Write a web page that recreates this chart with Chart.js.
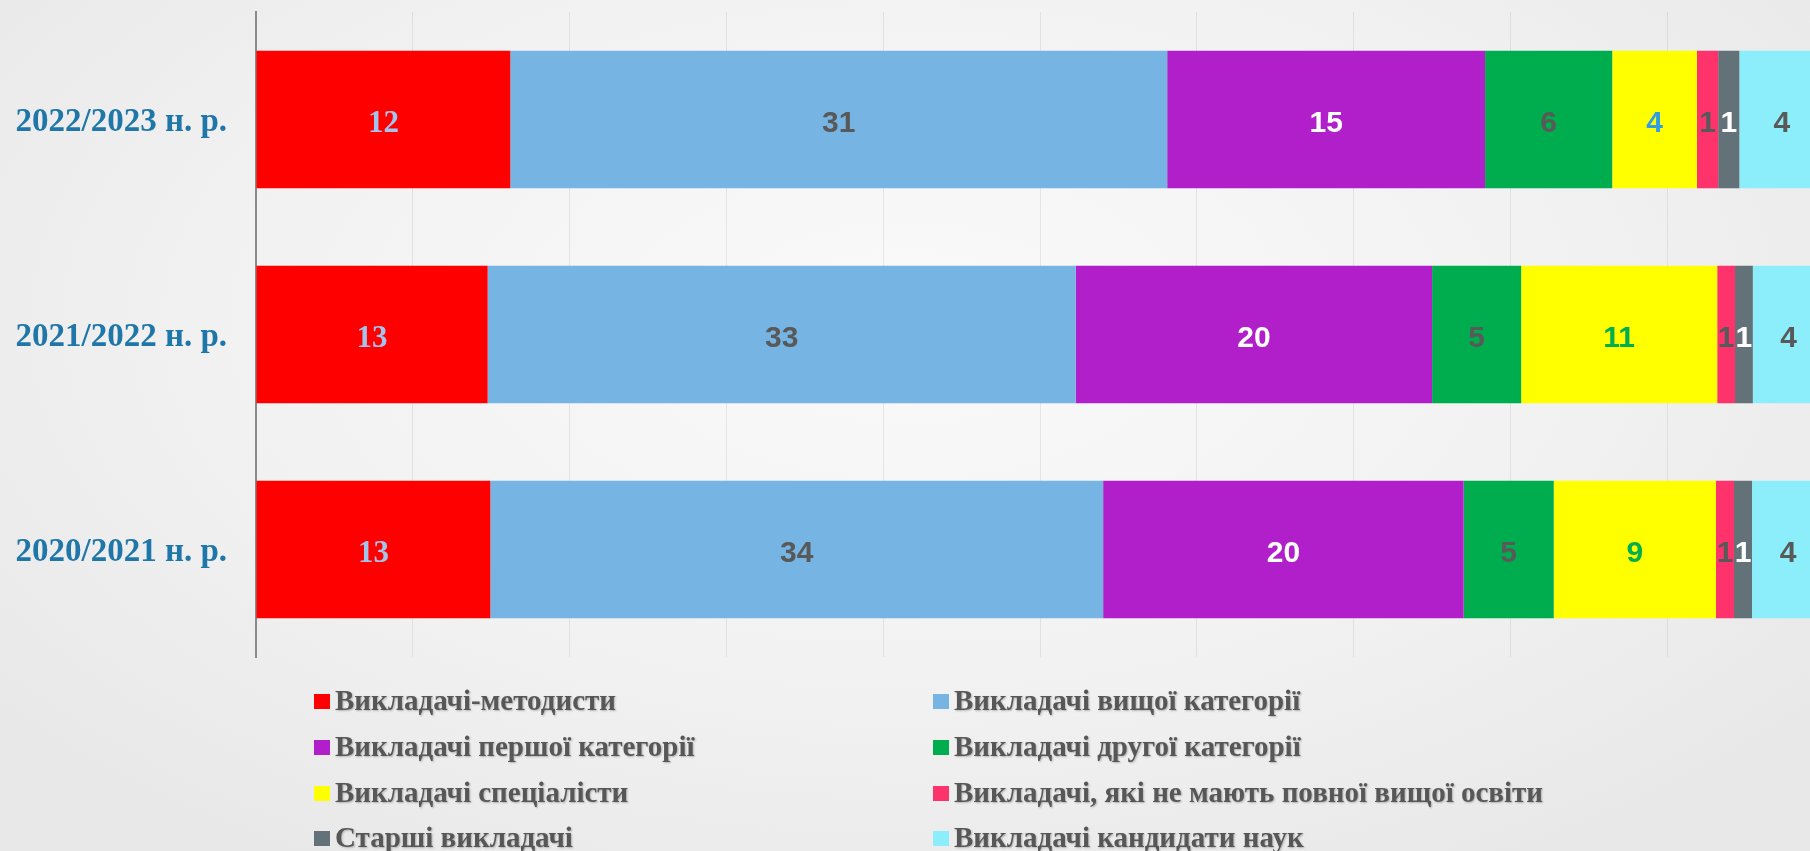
<!DOCTYPE html>
<html>
<head>
<meta charset="utf-8">
<script src="https://cdn.jsdelivr.net/npm/chart.js@4.4.1/dist/chart.umd.min.js"></script>
<style>
  html, body { margin: 0; padding: 0; overflow: hidden; }
  body {
    width: 1810px; height: 851px;
    background: radial-gradient(ellipse 65% 75% at 50% 38%, #fafafa 0%, #f2f2f2 55%, #e8e8e8 100%);
  }
  #wrap { position: relative; width: 1810px; height: 851px; }
</style>
</head>
<body>
<div id="wrap"><canvas id="staffChart" width="1810" height="851"></canvas></div>
<script>
// school years, top to bottom
const years = ['2022/2023 н. р.', '2021/2022 н. р.', '2020/2021 н. р.'];

// number of teachers per group, same order as years
const methodists   = [12, 13, 13];
const highestCat   = [31, 33, 34];
const firstCat     = [15, 20, 20];
const secondCat    = [6, 5, 5];
const specialists  = [4, 11, 9];
const noDegree     = [1, 1, 1];
const seniors      = [1, 1, 1];
const candidates   = [4, 4, 4];

const seriesNames = [
    'Викладачі-методисти',
    'Викладачі вищої категорії',
    'Викладачі першої категорії',
    'Викладачі другої категорії',
    'Викладачі спеціалісти',
    'Викладачі, які не мають повної вищої освіти',
    'Старші викладачі',
    'Викладачі кандидати наук'
];
const seriesData = [methodists, highestCat, firstCat, secondCat, specialists, noDegree, seniors, candidates];
const seriesColors = ['#ff0000', '#75b4e3', '#b11fca', '#00ad4e', '#ffff00', '#ff336c', '#637178', '#8ceefa'];
// label colour per bar (yellow group changes colour per year)
const labelColors = [
    ['#a3c4ec', '#a3c4ec', '#a3c4ec'],
    ['#595959', '#595959', '#595959'],
    ['#ffffff', '#ffffff', '#ffffff'],
    ['#595959', '#595959', '#595959'],
    ['#2f9ee2', '#00b050', '#00b050'],
    ['#595959', '#595959', '#595959'],
    ['#ffffff', '#ffffff', '#ffffff'],
    ['#595959', '#595959', '#595959']
];

// totals per year -> 100% stacked
const totals = years.map((y, i) => seriesData.reduce((s, arr) => s + arr[i], 0));

const datasets = seriesNames.map((name, k) => ({
    label: name,
    data: seriesData[k].map((v, i) => v / totals[i] * 100),
    raw: seriesData[k],
    backgroundColor: seriesColors[k],
    borderWidth: 0,
    categoryPercentage: 1,
    barPercentage: 0.64
}));

// value labels inside segments
const valueLabels = {
    id: 'valueLabels',
    afterDatasetsDraw(chart) {
        const ctx = chart.ctx;
        ctx.save();
        ctx.textAlign = 'center';
        ctx.textBaseline = 'middle';
        chart.data.datasets.forEach((ds, k) => {
            const meta = chart.getDatasetMeta(k);
            meta.data.forEach((el, i) => {
                ctx.fillStyle = labelColors[k][i];
                ctx.font = k === 0 ? 'bold 31px "Liberation Serif"' : 'bold 30px "Liberation Sans"';
                ctx.fillText(String(ds.raw[i]), (el.x + el.base) / 2, el.y + 4);
            });
        });
        ctx.restore();
    }
};

// two-column legend under the plot
const gridLegend = {
    id: 'gridLegend',
    afterDraw(chart) {
        const ctx = chart.ctx;
        const colX = [314, 933];
        const rowY = [702, 748, 794, 839];
        ctx.save();
        ctx.textBaseline = 'middle';
        ctx.font = 'bold 29px "Liberation Serif"';
        chart.data.datasets.forEach((ds, k) => {
            const x = colX[k % 2];
            const y = rowY[Math.floor(k / 2)];
            ctx.shadowColor = 'transparent';
            ctx.fillStyle = ds.backgroundColor;
            ctx.fillRect(x, y - 8, 16, 15);
            ctx.shadowColor = 'rgba(0,0,0,0.25)';
            ctx.shadowBlur = 2;
            ctx.shadowOffsetX = 1;
            ctx.shadowOffsetY = 1;
            ctx.fillStyle = '#575757';
            ctx.fillText(ds.label, x + 21, y + 1);
        });
        ctx.restore();
    }
};

new Chart(document.getElementById('staffChart'), {
    type: 'bar',
    data: { labels: years, datasets: datasets },
    options: {
        responsive: false,
        animation: false,
        indexAxis: 'y',
        layout: { padding: { top: 12, bottom: 194, left: 0, right: 0 } },
        plugins: {
            legend: { display: false },
            tooltip: { enabled: false }
        },
        scales: {
            x: {
                stacked: true,
                min: 0,
                max: 99.1,
                ticks: { display: false, stepSize: 10, includeBounds: false },
                grid: { color: 'rgba(0,0,0,0.07)', lineWidth: 1, drawTicks: false },
                border: { display: false }
            },
            y: {
                stacked: true,
                grid: { display: false, drawTicks: false },
                border: { display: true, color: '#8a8a8a', width: 2 },
                ticks: {
                    color: '#1f76a8',
                    padding: 29,
                    labelOffset: 3,
                    font: { family: 'Liberation Serif', size: 33, weight: 'bold' }
                },
                afterFit(scale) {
                    scale.width = 256;
                    scale.paddingTop = 0;
                    scale.paddingBottom = 0;
                }
            }
        }
    },
    plugins: [valueLabels, gridLegend]
});
</script>
</body>
</html>
